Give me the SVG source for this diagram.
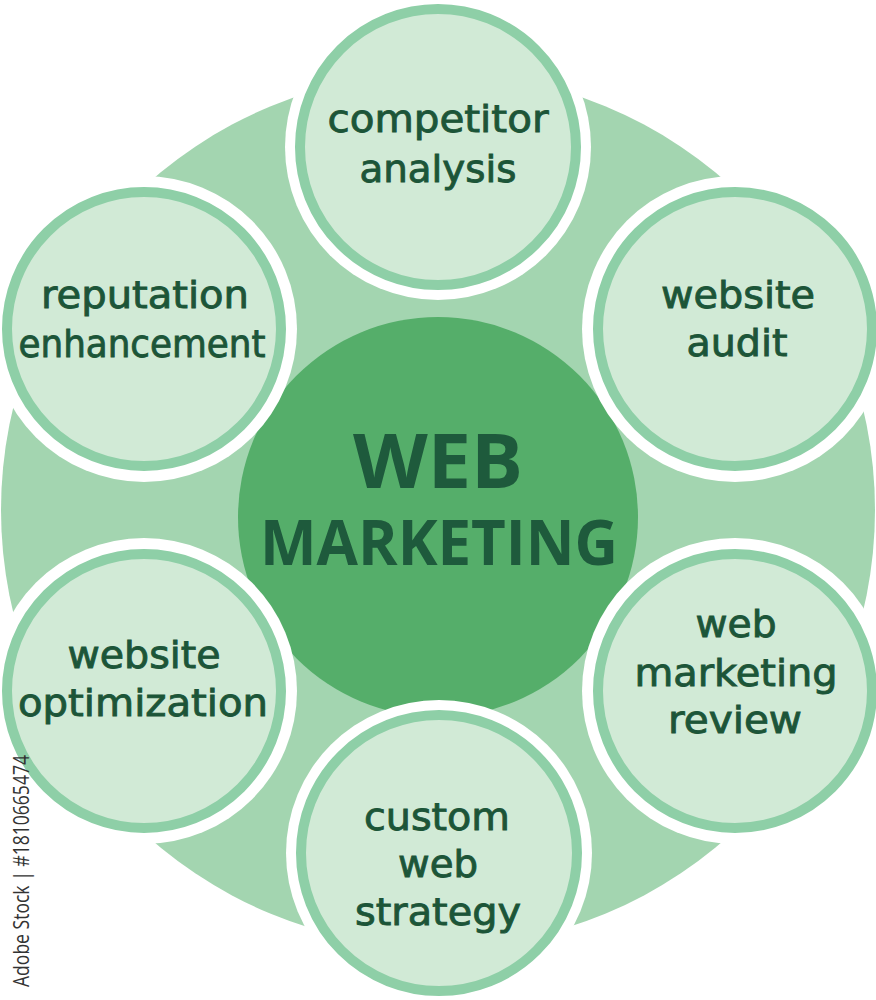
<svg xmlns="http://www.w3.org/2000/svg" width="876" height="1000" viewBox="0 0 876 1000">
<style>
.ring{fill:#ffffff}
.node{fill:#d1ead6;stroke:#8ecfa7;stroke-width:10}
.lbl{font-family:"DejaVu Sans","Liberation Sans",sans-serif;font-size:38px;fill:#1c5538;stroke:#1c5538;stroke-width:0.9;text-anchor:middle}
.big{font-family:"Open Sans","Liberation Sans",sans-serif;font-weight:bold;fill:#1e5a3c;text-anchor:middle}
</style>
<rect width="876" height="1000" fill="#ffffff"/>
<g id="background">
<circle cx="438" cy="510" r="437" fill="#a3d5b0"/>
</g>
<g id="center">
<circle cx="438" cy="517" r="200" fill="#55ae6a"/>
<text class="big" x="438" y="488" font-size="76" fill="#28643f" textLength="170" lengthAdjust="spacingAndGlyphs">WEB</text>
<text class="big" x="439" y="565" font-size="63" textLength="358" lengthAdjust="spacingAndGlyphs">MARKETING</text>
</g>
<g id="connectors"></g>
<g id="competitor-analysis">
<circle class="ring" cx="438" cy="147" r="153"/>
<circle class="node" cx="438" cy="147" r="138"/>
<text class="lbl" x="438" y="132" textLength="221" lengthAdjust="spacingAndGlyphs">competitor</text>
<text class="lbl" x="438" y="182" textLength="157" lengthAdjust="spacingAndGlyphs">analysis</text>
</g>
<g id="website-audit">
<circle class="ring" cx="735" cy="329" r="153"/>
<circle class="node" cx="735" cy="329" r="137"/>
<text class="lbl" x="738" y="308" textLength="154" lengthAdjust="spacingAndGlyphs">website</text>
<text class="lbl" x="737" y="356" textLength="101" lengthAdjust="spacingAndGlyphs">audit</text>
</g>
<g id="web-marketing-review">
<circle class="ring" cx="735" cy="691" r="153"/>
<circle class="node" cx="735" cy="691" r="137"/>
<text class="lbl" x="736" y="637" textLength="81" lengthAdjust="spacingAndGlyphs">web</text>
<text class="lbl" x="736" y="686" textLength="203" lengthAdjust="spacingAndGlyphs">marketing</text>
<text class="lbl" x="735" y="733" textLength="134" lengthAdjust="spacingAndGlyphs">review</text>
</g>
<g id="custom-web-strategy">
<circle class="ring" cx="439" cy="853" r="153"/>
<circle class="node" cx="439" cy="853" r="138"/>
<text class="lbl" x="437" y="830" textLength="146" lengthAdjust="spacingAndGlyphs">custom</text>
<text class="lbl" x="438" y="877" textLength="80" lengthAdjust="spacingAndGlyphs">web</text>
<text class="lbl" x="438" y="925" textLength="166" lengthAdjust="spacingAndGlyphs">strategy</text>
</g>
<g id="website-optimization">
<circle class="ring" cx="144" cy="691" r="153"/>
<circle class="node" cx="144" cy="691" r="137"/>
<text class="lbl" x="144" y="668" textLength="153" lengthAdjust="spacingAndGlyphs">website</text>
<text class="lbl" x="143" y="716" textLength="250" lengthAdjust="spacingAndGlyphs">optimization</text>
</g>
<g id="reputation-enhancement">
<circle class="ring" cx="144" cy="329" r="153"/>
<circle class="node" cx="144" cy="329" r="137"/>
<text class="lbl" x="145" y="308" textLength="208" lengthAdjust="spacingAndGlyphs">reputation</text>
<text class="lbl" x="142" y="357" textLength="247" lengthAdjust="spacingAndGlyphs">enhancement</text>
</g>
<g id="watermark">
<text x="0" y="0" transform="translate(29,987) rotate(-90)" font-family="Open Sans, Liberation Sans, sans-serif" font-size="21" fill="#333333" textLength="232" lengthAdjust="spacingAndGlyphs">Adobe Stock | #1810665474</text>
</g>
</svg>
